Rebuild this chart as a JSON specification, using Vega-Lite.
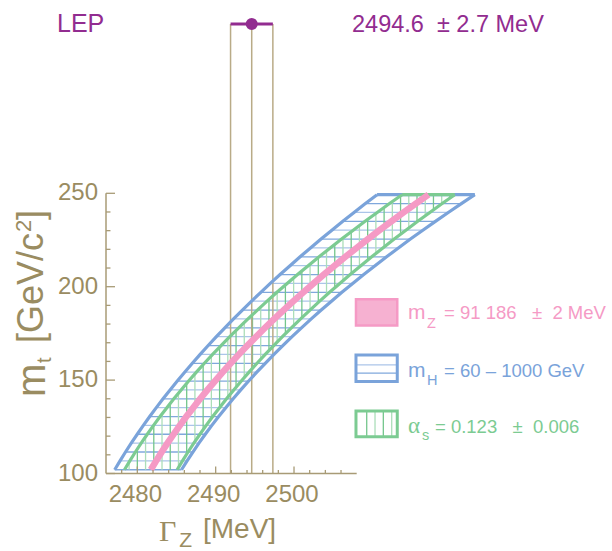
{
  "$schema": "https://vega.github.io/schema/vega-lite/v6.json",
  "width": 506,
  "height": 467,
  "autosize": {"type": "none"},
  "padding": {"left": 106, "top": 6.5, "right": 0, "bottom": 77.5},
  "background": "white",
  "config": {"view": {"stroke": null}, "font": "Liberation Sans"},
  "datasets": {
    "bands": [
      {"mt": 102, "mz": 2481.72, "gl": 2478.36, "gr": 2485.08, "bl": 2477.11, "br": 2485.64},
      {"mt": 106.75, "mz": 2482.40, "gl": 2479.04, "gr": 2485.76, "bl": 2477.79, "br": 2486.35},
      {"mt": 111.5, "mz": 2483.11, "gl": 2479.75, "gr": 2486.47, "bl": 2478.49, "br": 2487.09},
      {"mt": 116.25, "mz": 2483.85, "gl": 2480.49, "gr": 2487.21, "bl": 2479.22, "br": 2487.86},
      {"mt": 121, "mz": 2484.63, "gl": 2481.27, "gr": 2487.99, "bl": 2479.99, "br": 2488.67},
      {"mt": 125.75, "mz": 2485.43, "gl": 2482.07, "gr": 2488.79, "bl": 2480.77, "br": 2489.51},
      {"mt": 130.5, "mz": 2486.26, "gl": 2482.90, "gr": 2489.62, "bl": 2481.58, "br": 2490.38},
      {"mt": 135.25, "mz": 2487.13, "gl": 2483.77, "gr": 2490.49, "bl": 2482.42, "br": 2491.29},
      {"mt": 140, "mz": 2488.02, "gl": 2484.66, "gr": 2491.38, "bl": 2483.28, "br": 2492.23},
      {"mt": 144.75, "mz": 2488.95, "gl": 2485.59, "gr": 2492.31, "bl": 2484.18, "br": 2493.20},
      {"mt": 149.5, "mz": 2489.91, "gl": 2486.55, "gr": 2493.27, "bl": 2485.10, "br": 2494.21},
      {"mt": 154.25, "mz": 2490.90, "gl": 2487.54, "gr": 2494.26, "bl": 2486.04, "br": 2495.25},
      {"mt": 159, "mz": 2491.92, "gl": 2488.56, "gr": 2495.28, "bl": 2487.02, "br": 2496.33},
      {"mt": 163.75, "mz": 2492.97, "gl": 2489.61, "gr": 2496.33, "bl": 2488.02, "br": 2497.44},
      {"mt": 168.5, "mz": 2494.05, "gl": 2490.69, "gr": 2497.41, "bl": 2489.04, "br": 2498.57},
      {"mt": 173.25, "mz": 2495.16, "gl": 2491.80, "gr": 2498.52, "bl": 2490.09, "br": 2499.75},
      {"mt": 178, "mz": 2496.30, "gl": 2492.94, "gr": 2499.66, "bl": 2491.17, "br": 2500.95},
      {"mt": 182.75, "mz": 2497.48, "gl": 2494.12, "gr": 2500.84, "bl": 2492.28, "br": 2502.20},
      {"mt": 187.5, "mz": 2498.68, "gl": 2495.32, "gr": 2502.04, "bl": 2493.41, "br": 2503.47},
      {"mt": 192.25, "mz": 2499.92, "gl": 2496.56, "gr": 2503.28, "bl": 2494.58, "br": 2504.78},
      {"mt": 197, "mz": 2501.18, "gl": 2497.82, "gr": 2504.54, "bl": 2495.76, "br": 2506.11},
      {"mt": 201.75, "mz": 2502.48, "gl": 2499.12, "gr": 2505.84, "bl": 2496.97, "br": 2507.49},
      {"mt": 206.5, "mz": 2503.81, "gl": 2500.45, "gr": 2507.17, "bl": 2498.22, "br": 2508.90},
      {"mt": 211.25, "mz": 2505.17, "gl": 2501.81, "gr": 2508.53, "bl": 2499.49, "br": 2510.34},
      {"mt": 216, "mz": 2506.56, "gl": 2503.20, "gr": 2509.92, "bl": 2500.78, "br": 2511.82},
      {"mt": 220.75, "mz": 2507.98, "gl": 2504.62, "gr": 2511.34, "bl": 2502.10, "br": 2513.32},
      {"mt": 225.5, "mz": 2509.43, "gl": 2506.07, "gr": 2512.79, "bl": 2503.45, "br": 2514.86},
      {"mt": 230.25, "mz": 2510.92, "gl": 2507.56, "gr": 2514.28, "bl": 2504.83, "br": 2516.44},
      {"mt": 235, "mz": 2512.43, "gl": 2509.07, "gr": 2515.79, "bl": 2506.23, "br": 2518.05},
      {"mt": 239.75, "mz": 2513.98, "gl": 2510.62, "gr": 2517.34, "bl": 2507.66, "br": 2519.69},
      {"mt": 244.5, "mz": 2515.55, "gl": 2512.19, "gr": 2518.91, "bl": 2509.11, "br": 2521.36},
      {"mt": 249.25, "mz": 2517.16, "gl": 2513.80, "gr": 2520.52, "bl": 2510.60, "br": 2523.08}
    ],
    "alphas": [
      {"gz": 2478.95, "lo": 102, "hi": 106.11},
      {"gz": 2480.00, "lo": 102, "hi": 113.10},
      {"gz": 2481.05, "lo": 102, "hi": 119.69},
      {"gz": 2482.10, "lo": 102, "hi": 125.93},
      {"gz": 2483.15, "lo": 102, "hi": 131.87},
      {"gz": 2484.20, "lo": 102, "hi": 137.56},
      {"gz": 2485.25, "lo": 103.18, "hi": 143.02},
      {"gz": 2486.30, "lo": 110.36, "hi": 148.28},
      {"gz": 2487.35, "lo": 117.10, "hi": 153.36},
      {"gz": 2488.40, "lo": 123.47, "hi": 158.28},
      {"gz": 2489.45, "lo": 129.53, "hi": 163.05},
      {"gz": 2490.50, "lo": 135.31, "hi": 167.68},
      {"gz": 2491.55, "lo": 140.86, "hi": 172.19},
      {"gz": 2492.60, "lo": 146.20, "hi": 176.59},
      {"gz": 2493.65, "lo": 151.35, "hi": 180.87},
      {"gz": 2494.70, "lo": 156.33, "hi": 185.06},
      {"gz": 2495.75, "lo": 161.16, "hi": 189.16},
      {"gz": 2496.80, "lo": 165.85, "hi": 193.17},
      {"gz": 2497.85, "lo": 170.40, "hi": 197.09},
      {"gz": 2498.90, "lo": 174.84, "hi": 200.95},
      {"gz": 2499.95, "lo": 179.17, "hi": 204.72},
      {"gz": 2501.00, "lo": 183.40, "hi": 208.43},
      {"gz": 2502.05, "lo": 187.53, "hi": 212.08},
      {"gz": 2503.10, "lo": 191.57, "hi": 215.66},
      {"gz": 2504.15, "lo": 195.53, "hi": 219.18},
      {"gz": 2505.20, "lo": 199.41, "hi": 222.65},
      {"gz": 2506.25, "lo": 203.22, "hi": 226.07},
      {"gz": 2507.30, "lo": 206.96, "hi": 229.43},
      {"gz": 2508.35, "lo": 210.63, "hi": 232.75},
      {"gz": 2509.40, "lo": 214.23, "hi": 236.02},
      {"gz": 2510.45, "lo": 217.78, "hi": 239.24},
      {"gz": 2511.50, "lo": 221.27, "hi": 242.42},
      {"gz": 2512.55, "lo": 224.71, "hi": 245.56},
      {"gz": 2513.60, "lo": 228.09, "hi": 248.67},
      {"gz": 2514.65, "lo": 231.43, "hi": 249.25},
      {"gz": 2515.70, "lo": 234.72, "hi": 249.25},
      {"gz": 2516.75, "lo": 237.96, "hi": 249.25},
      {"gz": 2517.80, "lo": 241.16, "hi": 249.25},
      {"gz": 2518.85, "lo": 244.31, "hi": 249.25},
      {"gz": 2519.90, "lo": 247.43, "hi": 249.25}
    ],
    "xticks": [
      {"v": 2478}, {"v": 2480}, {"v": 2482}, {"v": 2484}, {"v": 2486}, {"v": 2488}, {"v": 2490}, {"v": 2492},
      {"v": 2494}, {"v": 2496}, {"v": 2498}, {"v": 2500}, {"v": 2502}, {"v": 2504}, {"v": 2506}
    ],
    "yticks": [
      {"v": 100}, {"v": 110}, {"v": 120}, {"v": 130}, {"v": 140}, {"v": 150}, {"v": 160}, {"v": 170}, {"v": 180},
      {"v": 190}, {"v": 200}, {"v": 210}, {"v": 220}, {"v": 230}, {"v": 240}, {"v": 250}
    ],
    "lep": [
      {"name": "LEP", "gz": 2494.6, "lo": 2491.9, "hi": 2497.3, "label": "2494.6\u00a0\u00a0\u00b1 2.7 MeV"}
    ],
    "legend": [
      {"key": "mz", "sym": "m", "sub": "Z", "text": "= 91 186\u00a0\u00a0\u00a0\u00b1\u00a0\u00a02 MeV"},
      {"key": "mh", "sym": "m", "sub": "H", "text": "= 60 \u2013 1000 GeV"},
      {"key": "as", "sym": "\u03b1", "sub": "s", "text": "= 0.123\u00a0\u00a0\u00a0\u00b1\u00a0\u00a00.006"}
    ],
    "titles": [
      {"id": "gamma", "text": "\u0393"},
      {"id": "z", "text": "Z"},
      {"id": "mev", "text": "[MeV]"},
      {"id": "m", "text": "m"},
      {"id": "t", "text": "t"},
      {"id": "gev", "text": "[GeV/c"},
      {"id": "sq", "text": "2"},
      {"id": "br", "text": "]"}
    ]
  },
  "layer": [
    {
      "data": {"name": "bands"},
      "transform": [{"window": [{"op": "row_number", "as": "i"}]}],
      "mark": {"type": "rule", "strokeWidth": 1.3},
      "encoding": {
        "x": {"field": "bl", "type": "quantitative", "scale": {"domain": [2476, 2540.59], "nice": false, "zero": false}, "axis": null},
        "x2": {"field": "br"},
        "y": {"field": "mt", "type": "quantitative", "scale": {"domain": [100, 350], "nice": false, "zero": false}, "axis": null},
        "color": {"condition": {"test": "datum.i % 2 === 0", "value": "#abc5e9"}, "value": "#80a8dc"}
      }
    },
    {
      "data": {"name": "alphas"},
      "transform": [{"window": [{"op": "row_number", "as": "i"}]}],
      "mark": {"type": "rule", "strokeWidth": 1.3},
      "encoding": {
        "x": {"field": "gz", "type": "quantitative", "axis": null},
        "y": {"field": "lo", "type": "quantitative", "axis": null},
        "y2": {"field": "hi"},
        "color": {"condition": {"test": "datum.i % 2 === 0", "value": "#74c68c"}, "value": "#acdeb9"}
      }
    },
    {
      "data": {"name": "lep"},
      "transform": [{"fold": ["lo", "gz", "hi"], "as": ["edge", "v"]}],
      "mark": {"type": "rule", "strokeWidth": 1.5, "color": "#b9ab87"},
      "encoding": {
        "x": {"field": "v", "type": "quantitative", "axis": null},
        "y": {"datum": 100, "axis": null},
        "y2": {"datum": 340.6}
      }
    },
    {
      "data": {"name": "bands"},
      "mark": {"type": "line", "strokeWidth": 3.2, "color": "#7aa3da", "strokeCap": "butt"},
      "encoding": {
        "x": {"field": "bl", "type": "quantitative", "axis": null},
        "y": {"field": "mt", "type": "quantitative", "axis": null},
        "order": {"field": "mt"}
      }
    },
    {
      "data": {"name": "bands"},
      "mark": {"type": "line", "strokeWidth": 3.2, "color": "#7aa3da", "strokeCap": "butt"},
      "encoding": {
        "x": {"field": "br", "type": "quantitative", "axis": null},
        "y": {"field": "mt", "type": "quantitative", "axis": null},
        "order": {"field": "mt"}
      }
    },
    {
      "data": {"name": "bands"},
      "transform": [{"filter": "datum.mt > 249"}],
      "mark": {"type": "rule", "strokeWidth": 3.2, "color": "#7aa3da"},
      "encoding": {
        "x": {"field": "bl", "type": "quantitative", "axis": null},
        "x2": {"field": "br"},
        "y": {"field": "mt", "type": "quantitative", "axis": null}
      }
    },
    {
      "data": {"name": "bands"},
      "mark": {"type": "line", "strokeWidth": 3.2, "color": "#7ccb92", "strokeCap": "butt"},
      "encoding": {
        "x": {"field": "gl", "type": "quantitative", "axis": null},
        "y": {"field": "mt", "type": "quantitative", "axis": null},
        "order": {"field": "mt"}
      }
    },
    {
      "data": {"name": "bands"},
      "mark": {"type": "line", "strokeWidth": 3.2, "color": "#7ccb92", "strokeCap": "butt"},
      "encoding": {
        "x": {"field": "gr", "type": "quantitative", "axis": null},
        "y": {"field": "mt", "type": "quantitative", "axis": null},
        "order": {"field": "mt"}
      }
    },
    {
      "data": {"name": "bands"},
      "transform": [{"filter": "datum.mt > 249"}],
      "mark": {"type": "rule", "strokeWidth": 3.2, "color": "#7ccb92"},
      "encoding": {
        "x": {"field": "gl", "type": "quantitative", "axis": null},
        "x2": {"field": "gr"},
        "y": {"field": "mt", "type": "quantitative", "axis": null}
      }
    },
    {
      "data": {"name": "bands"},
      "mark": {"type": "line", "strokeWidth": 6.5, "color": "#f59ac5", "strokeCap": "butt"},
      "encoding": {
        "x": {"field": "mz", "type": "quantitative", "axis": null},
        "y": {"field": "mt", "type": "quantitative", "axis": null},
        "order": {"field": "mt"}
      }
    },
    {
      "data": {"values": [{}]},
      "mark": {"type": "rule", "strokeWidth": 1.5, "color": "#a89b76"},
      "encoding": {
        "x": {"datum": 2476, "axis": null},
        "x2": {"datum": 2508},
        "y": {"datum": 100, "axis": null}
      }
    },
    {
      "data": {"values": [{}]},
      "mark": {"type": "rule", "strokeWidth": 1.5, "color": "#a89b76"},
      "encoding": {
        "x": {"datum": 2476, "axis": null},
        "y": {"datum": 100, "axis": null},
        "y2": {"datum": 250}
      }
    },
    {
      "data": {"name": "xticks"},
      "transform": [{"filter": "datum.v % 10 !== 0"}],
      "mark": {"type": "rule", "strokeWidth": 1.3, "color": "#a89b76"},
      "encoding": {
        "x": {"field": "v", "type": "quantitative", "axis": null},
        "y": {"datum": 100, "axis": null},
        "y2": {"datum": 101.9}
      }
    },
    {
      "data": {"name": "xticks"},
      "transform": [{"filter": "datum.v % 10 === 0"}],
      "layer": [
        {
          "mark": {"type": "rule", "strokeWidth": 1.3, "color": "#a89b76"},
          "encoding": {
            "x": {"field": "v", "type": "quantitative", "axis": null},
            "y": {"datum": 100, "axis": null},
            "y2": {"datum": 103.8}
          }
        },
        {
          "mark": {"type": "text", "align": "center", "baseline": "top", "fontSize": 24, "dx": -2, "color": "#9a8c61"},
          "encoding": {
            "x": {"field": "v", "type": "quantitative", "axis": null},
            "y": {"datum": 94.65, "axis": null},
            "text": {"field": "v", "type": "quantitative", "format": "d"}
          }
        }
      ]
    },
    {
      "data": {"name": "yticks"},
      "transform": [{"filter": "datum.v % 50 !== 0"}],
      "mark": {"type": "rule", "strokeWidth": 1.3, "color": "#a89b76"},
      "encoding": {
        "y": {"field": "v", "type": "quantitative", "axis": null},
        "x": {"datum": 2476, "axis": null},
        "x2": {"datum": 2476.57}
      }
    },
    {
      "data": {"name": "yticks"},
      "transform": [{"filter": "datum.v % 50 === 0"}],
      "layer": [
        {
          "mark": {"type": "rule", "strokeWidth": 1.3, "color": "#a89b76"},
          "encoding": {
            "y": {"field": "v", "type": "quantitative", "axis": null},
            "x": {"datum": 2476, "axis": null},
            "x2": {"datum": 2477.15}
          }
        },
        {
          "mark": {"type": "text", "align": "right", "baseline": "middle", "fontSize": 24, "color": "#9a8c61"},
          "encoding": {
            "y": {"field": "v", "type": "quantitative", "axis": null},
            "x": {"datum": 2474.98, "axis": null},
            "text": {"field": "v", "type": "quantitative", "format": "d"}
          }
        }
      ]
    },
    {
      "data": {"name": "lep"},
      "mark": {"type": "rule", "strokeWidth": 3, "color": "#922c90"},
      "encoding": {
        "x": {"field": "lo", "type": "quantitative", "axis": null},
        "x2": {"field": "hi"},
        "y": {"datum": 340.6, "axis": null}
      }
    },
    {
      "data": {"name": "lep"},
      "mark": {"type": "point", "filled": true, "size": 145, "opacity": 1, "color": "#922c90"},
      "encoding": {
        "x": {"field": "gz", "type": "quantitative", "axis": null},
        "y": {"datum": 340.6, "axis": null}
      }
    },
    {
      "data": {"name": "lep"},
      "mark": {"type": "text", "align": "left", "baseline": "alphabetic", "fontSize": 25, "color": "#922c90"},
      "encoding": {
        "x": {"datum": 2469.75, "axis": null},
        "y": {"datum": 336.3, "axis": null},
        "text": {"field": "name"}
      }
    },
    {
      "data": {"name": "lep"},
      "mark": {"type": "text", "align": "left", "baseline": "alphabetic", "fontSize": 23.5, "color": "#922c90"},
      "encoding": {
        "x": {"datum": 2507.4, "axis": null},
        "y": {"datum": 336.3, "axis": null},
        "text": {"field": "label"}
      }
    },
    {
      "data": {"values": [{}]},
      "mark": {"type": "rect", "fill": "#f6b1d1", "stroke": "#f59ac5", "strokeWidth": 2.5},
      "encoding": {
        "x": {"datum": 2507.91, "axis": null}, "x2": {"datum": 2513.18},
        "y": {"datum": 193.3, "axis": null}, "y2": {"datum": 179.2}
      }
    },
    {
      "data": {"values": [{}]},
      "mark": {"type": "rule", "strokeWidth": 1.3, "color": "#abc5e9"},
      "encoding": {
        "x": {"datum": 2507.91, "axis": null}, "x2": {"datum": 2513.18},
        "y": {"datum": 158.1, "axis": null}
      }
    },
    {
      "data": {"values": [{}]},
      "mark": {"type": "rule", "strokeWidth": 1.3, "color": "#80a8dc"},
      "encoding": {
        "x": {"datum": 2507.91, "axis": null}, "x2": {"datum": 2513.18},
        "y": {"datum": 153.7, "axis": null}
      }
    },
    {
      "data": {"values": [{}]},
      "mark": {"type": "rect", "fill": null, "stroke": "#7aa3da", "strokeWidth": 3},
      "encoding": {
        "x": {"datum": 2507.91, "axis": null}, "x2": {"datum": 2513.18},
        "y": {"datum": 163.5, "axis": null}, "y2": {"datum": 149.2}
      }
    },
    {
      "data": {"values": [{}]},
      "mark": {"type": "rule", "strokeWidth": 1.3, "color": "#74c68c"},
      "encoding": {"x": {"datum": 2509.28, "axis": null}, "y": {"datum": 119.7, "axis": null}, "y2": {"datum": 133.5}}
    },
    {
      "data": {"values": [{}]},
      "mark": {"type": "rule", "strokeWidth": 1.3, "color": "#acdeb9"},
      "encoding": {"x": {"datum": 2510.34, "axis": null}, "y": {"datum": 119.7, "axis": null}, "y2": {"datum": 133.5}}
    },
    {
      "data": {"values": [{}]},
      "mark": {"type": "rule", "strokeWidth": 1.3, "color": "#74c68c"},
      "encoding": {"x": {"datum": 2511.40, "axis": null}, "y": {"datum": 119.7, "axis": null}, "y2": {"datum": 133.5}}
    },
    {
      "data": {"values": [{}]},
      "mark": {"type": "rule", "strokeWidth": 1.3, "color": "#acdeb9"},
      "encoding": {"x": {"datum": 2512.47, "axis": null}, "y": {"datum": 119.7, "axis": null}, "y2": {"datum": 133.5}}
    },
    {
      "data": {"values": [{}]},
      "mark": {"type": "rect", "fill": null, "stroke": "#7ccb92", "strokeWidth": 3},
      "encoding": {
        "x": {"datum": 2507.91, "axis": null}, "x2": {"datum": 2513.18},
        "y": {"datum": 133.5, "axis": null}, "y2": {"datum": 119.7}
      }
    },
    {
      "data": {"name": "legend"},
      "transform": [{"filter": "datum.key === 'mz'"}],
      "layer": [
        {"mark": {"type": "text", "align": "left", "baseline": "alphabetic", "fontSize": 21, "color": "#f59ac5"},
         "encoding": {"x": {"datum": 2514.55, "axis": null}, "y": {"datum": 182.7, "axis": null}, "text": {"field": "sym"}}},
        {"mark": {"type": "text", "align": "left", "baseline": "alphabetic", "fontSize": 14.5, "color": "#f59ac5"},
         "encoding": {"x": {"datum": 2516.98, "axis": null}, "y": {"datum": 177.9, "axis": null}, "text": {"field": "sub"}}},
        {"mark": {"type": "text", "align": "left", "baseline": "alphabetic", "fontSize": 18.5, "color": "#f59ac5"},
         "encoding": {"x": {"datum": 2519.15, "axis": null}, "y": {"datum": 182.7, "axis": null}, "text": {"field": "text"}}}
      ]
    },
    {
      "data": {"name": "legend"},
      "transform": [{"filter": "datum.key === 'mh'"}],
      "layer": [
        {"mark": {"type": "text", "align": "left", "baseline": "alphabetic", "fontSize": 21, "color": "#7aa3da"},
         "encoding": {"x": {"datum": 2514.55, "axis": null}, "y": {"datum": 151.8, "axis": null}, "text": {"field": "sym"}}},
        {"mark": {"type": "text", "align": "left", "baseline": "alphabetic", "fontSize": 14.5, "color": "#7aa3da"},
         "encoding": {"x": {"datum": 2516.98, "axis": null}, "y": {"datum": 147.6, "axis": null}, "text": {"field": "sub"}}},
        {"mark": {"type": "text", "align": "left", "baseline": "alphabetic", "fontSize": 18.5, "color": "#7aa3da"},
         "encoding": {"x": {"datum": 2519.15, "axis": null}, "y": {"datum": 151.8, "axis": null}, "text": {"field": "text"}}}
      ]
    },
    {
      "data": {"name": "legend"},
      "transform": [{"filter": "datum.key === 'as'"}],
      "layer": [
        {"mark": {"type": "text", "align": "left", "baseline": "alphabetic", "fontSize": 23, "font": "Liberation Serif", "color": "#7ccb92"},
         "encoding": {"x": {"datum": 2514.55, "axis": null}, "y": {"datum": 121.7, "axis": null}, "text": {"field": "sym"}}},
        {"mark": {"type": "text", "align": "left", "baseline": "alphabetic", "fontSize": 14.5, "color": "#7ccb92"},
         "encoding": {"x": {"datum": 2516.34, "axis": null}, "y": {"datum": 117.7, "axis": null}, "text": {"field": "sub"}}},
        {"mark": {"type": "text", "align": "left", "baseline": "alphabetic", "fontSize": 18.5, "color": "#7ccb92"},
         "encoding": {"x": {"datum": 2517.99, "axis": null}, "y": {"datum": 121.7, "axis": null}, "text": {"field": "text"}}}
      ]
    },
    {
      "data": {"name": "titles"},
      "layer": [
        {"transform": [{"filter": "datum.id === 'gamma'"}],
         "mark": {"type": "text", "align": "left", "baseline": "alphabetic", "fontSize": 30, "font": "Liberation Serif", "color": "#9a8c61"},
         "encoding": {"x": {"datum": 2482.77, "axis": null}, "y": {"datum": 63.9, "axis": null}, "text": {"field": "text"}}},
        {"transform": [{"filter": "datum.id === 'z'"}],
         "mark": {"type": "text", "align": "left", "baseline": "alphabetic", "fontSize": 21, "color": "#9a8c61"},
         "encoding": {"x": {"datum": 2485.35, "axis": null}, "y": {"datum": 60.6, "axis": null}, "text": {"field": "text"}}},
        {"transform": [{"filter": "datum.id === 'mev'"}],
         "mark": {"type": "text", "align": "left", "baseline": "alphabetic", "fontSize": 28, "color": "#9a8c61"},
         "encoding": {"x": {"datum": 2488.38, "axis": null}, "y": {"datum": 65.7, "axis": null}, "text": {"field": "text"}}},
        {"transform": [{"filter": "datum.id === 'm'"}],
         "mark": {"type": "text", "align": "left", "baseline": "alphabetic", "angle": 270, "fontSize": 40, "color": "#9a8c61"},
         "encoding": {"x": {"datum": 2468.21, "axis": null}, "y": {"datum": 140.95, "axis": null}, "text": {"field": "text"}}},
        {"transform": [{"filter": "datum.id === 't'"}],
         "mark": {"type": "text", "align": "left", "baseline": "alphabetic", "angle": 270, "fontSize": 20, "color": "#9a8c61"},
         "encoding": {"x": {"datum": 2468.98, "axis": null}, "y": {"datum": 159.15, "axis": null}, "text": {"field": "text"}}},
        {"transform": [{"filter": "datum.id === 'gev'"}],
         "mark": {"type": "text", "align": "left", "baseline": "alphabetic", "angle": 270, "fontSize": 36, "color": "#9a8c61"},
         "encoding": {"x": {"datum": 2467.96, "axis": null}, "y": {"datum": 169.86, "axis": null}, "text": {"field": "text"}}},
        {"transform": [{"filter": "datum.id === 'sq'"}],
         "mark": {"type": "text", "align": "left", "baseline": "alphabetic", "angle": 270, "fontSize": 22, "color": "#9a8c61"},
         "encoding": {"x": {"datum": 2466.43, "axis": null}, "y": {"datum": 229.28, "axis": null}, "text": {"field": "text"}}},
        {"transform": [{"filter": "datum.id === 'br'"}],
         "mark": {"type": "text", "align": "left", "baseline": "alphabetic", "angle": 270, "fontSize": 36, "color": "#9a8c61"},
         "encoding": {"x": {"datum": 2467.96, "axis": null}, "y": {"datum": 235.71, "axis": null}, "text": {"field": "text"}}}
      ]
    }
  ]
}
